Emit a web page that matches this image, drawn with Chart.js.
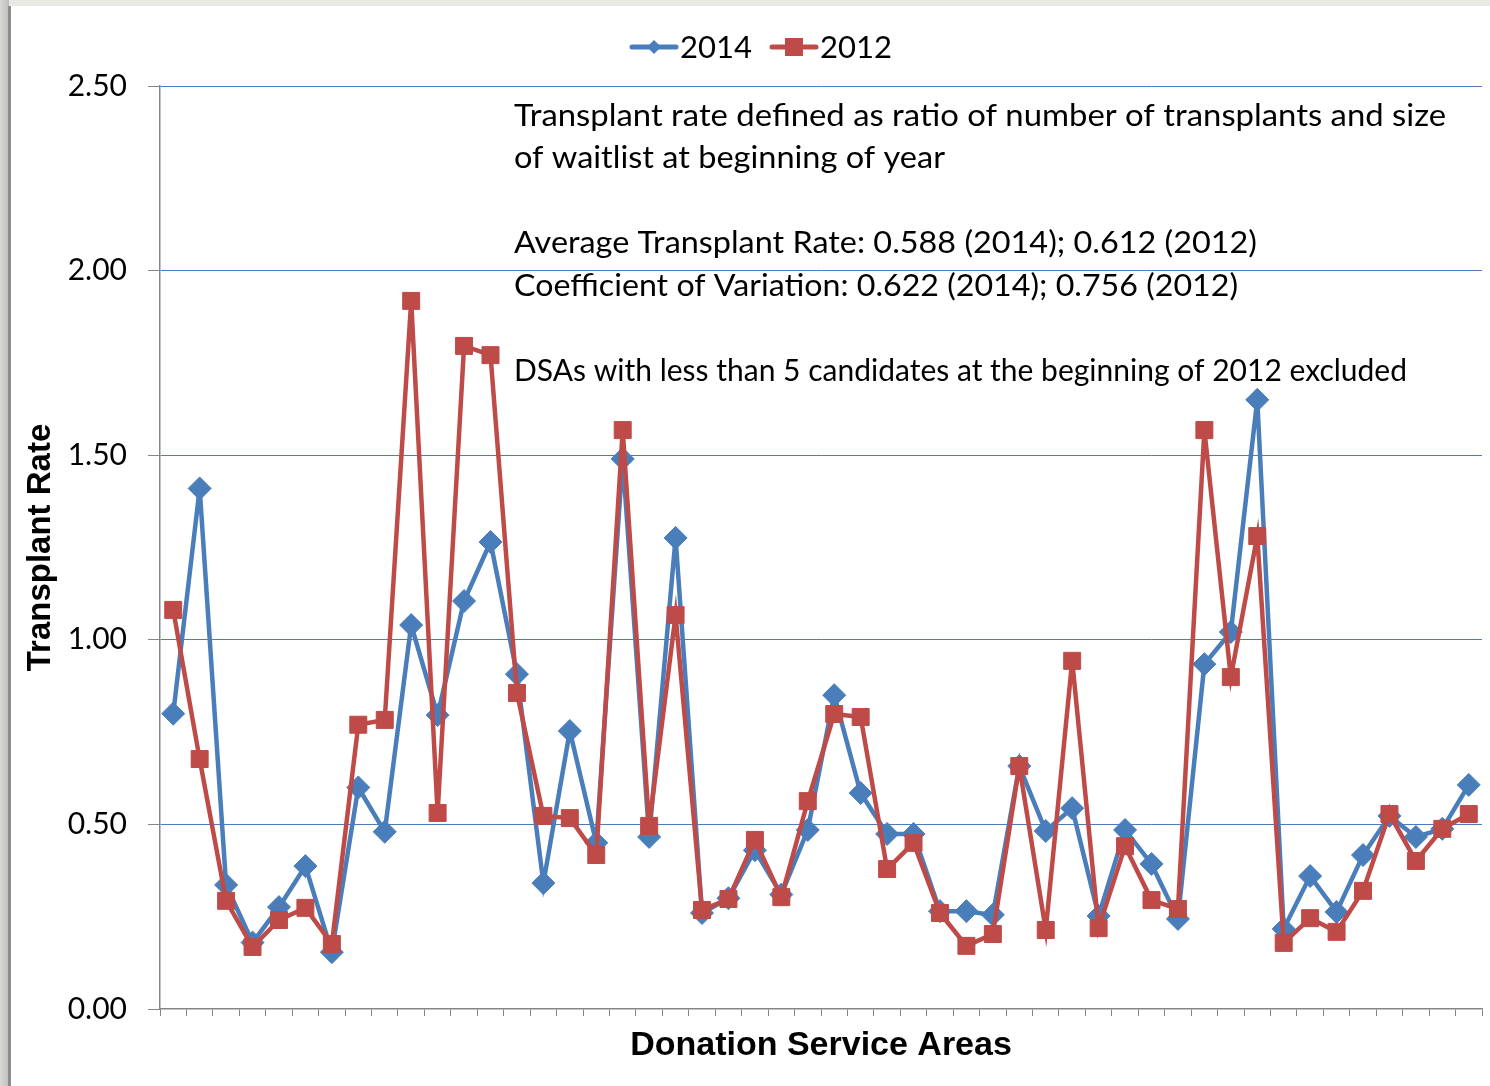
<!DOCTYPE html>
<html>
<head>
<meta charset="utf-8">
<title>Transplant Rate by Donation Service Area</title>
<script src="https://cdn.jsdelivr.net/npm/chart.js@4.4.1/dist/chart.umd.min.js"></script>
<style>
  html, body { margin: 0; padding: 0; background: #fff; }
  #wrap { width: 1490px; height: 1086px; position: relative; }
</style>
</head>
<body>
<div id="wrap"><canvas id="rateChart" width="1490" height="1086"></canvas></div>
<script>
// Donation Service Areas - the axis shows no names, one slot each
const dsaLabels = ['1','2','3','4','5','6','7','8','9','10',
  '11','12','13','14','15','16','17','18','19','20',
  '21','22','23','24','25','26','27','28','29','30',
  '31','32','33','34','35','36','37','38','39','40',
  '41','42','43','44','45','46','47','48','49','50'];

const seriesNames = ['2014', '2012'];

const rate2014 = [0.80, 1.41, 0.336, 0.18, 0.276, 0.387, 0.154, 0.60, 0.48, 1.04,
  0.796, 1.105, 1.265, 0.907, 0.341, 0.753, 0.45, 1.49, 0.466, 1.276,
  0.26, 0.30, 0.43, 0.31, 0.485, 0.85, 0.585, 0.474, 0.474, 0.265,
  0.265, 0.255, 0.658, 0.482, 0.544, 0.252, 0.485, 0.393, 0.244, 0.934,
  1.021, 1.65, 0.217, 0.36, 0.263, 0.417, 0.523, 0.466, 0.488, 0.607];

const rate2012 = [1.081, 0.677, 0.293, 0.168, 0.241, 0.274, 0.176, 0.77, 0.783, 1.918,
  0.531, 1.796, 1.771, 0.856, 0.523, 0.517, 0.417, 1.568, 0.496, 1.067,
  0.268, 0.298, 0.458, 0.303, 0.563, 0.799, 0.791, 0.379, 0.45, 0.26,
  0.171, 0.203, 0.658, 0.214, 0.943, 0.219, 0.441, 0.295, 0.271, 1.568,
  0.899, 1.281, 0.179, 0.246, 0.209, 0.32, 0.528, 0.401, 0.488, 0.528];

const yMin = 0, yMax = 2.5, yStep = 0.5;

const noteText = [
  'Transplant rate defined as ratio of number of transplants and size',
  'of waitlist at beginning of year',
  '',
  'Average Transplant Rate: 0.588 (2014); 0.612 (2012)',
  'Coefficient of Variation: 0.622 (2014); 0.756 (2012)',
  '',
  'DSAs with less than 5 candidates at the beginning of 2012 excluded'
];

const blue = '#4A7EBB';
const red = '#BE4B48';
const axisGray = '#868686';

// right end of each note line in the source picture
const noteEnds = [1446, 945, 0, 1257, 1238, 0, 1407];

// frame, legend and the note block
const extrasPlugin = {
  id: 'extras',
  beforeDraw(chart) {
    const ctx = chart.ctx;
    ctx.save();
    ctx.fillStyle = '#fff';
    ctx.fillRect(0, 0, chart.width, chart.height);
    ctx.fillStyle = '#E9E9E4';
    ctx.fillRect(0, 0, chart.width, 6);
    const g = ctx.createLinearGradient(0, 0, 9, 0);
    g.addColorStop(0, '#D8D8D4');
    g.addColorStop(1, '#BDBDBD');
    ctx.fillStyle = g;
    ctx.fillRect(0, 0, 9, chart.height);
    ctx.fillStyle = '#8C8C8C';
    ctx.fillRect(8, 6, 3, chart.height - 6);
    ctx.restore();
  },
  afterDraw(chart) {
    const ctx = chart.ctx;
    ctx.save();
    ctx.fillStyle = '#000';
    ctx.textBaseline = 'middle';
    ctx.font = '30px Lato';
    noteText.forEach((t, i) => {
      if (!t) return;
      // stretch each line to the same span as in the source
      const sx = (noteEnds[i] - 514) / ctx.measureText(t).width;
      ctx.save();
      ctx.translate(514, 116 + i * 42.5);
      ctx.scale(sx, 1);
      ctx.fillText(t, 0, 0);
      ctx.restore();
    });

    // legend: line + marker + label
    const items = [
      { x: 632, color: blue, marker: 'diamond' },
      { x: 772, color: red, marker: 'square' }
    ];
    items.forEach((it, i) => {
      const y = 47;
      ctx.strokeStyle = it.color;
      ctx.lineWidth = 5;
      ctx.lineCap = 'round';
      ctx.beginPath();
      ctx.moveTo(it.x, y);
      ctx.lineTo(it.x + 44, y);
      ctx.stroke();
      ctx.fillStyle = it.color;
      const cx = it.x + 22;
      if (it.marker === 'diamond') {
        ctx.beginPath();
        ctx.moveTo(cx - 7, y);
        ctx.lineTo(cx, y - 7);
        ctx.lineTo(cx + 7, y);
        ctx.lineTo(cx, y + 7);
        ctx.closePath();
        ctx.fill();
      } else {
        ctx.fillRect(cx - 9, y - 9, 18, 18);
      }
      ctx.fillStyle = '#000';
      ctx.font = '31px Lato';
      ctx.fillText(seriesNames[i], it.x + 48, y + 1);
    });
    ctx.restore();
  }
};

const ctx = document.getElementById('rateChart').getContext('2d');
new Chart(ctx, {
  type: 'line',
  data: {
    labels: dsaLabels,
    datasets: [
      {
        label: seriesNames[0],
        data: rate2014,
        borderColor: blue,
        backgroundColor: blue,
        borderWidth: 4.5,
        pointStyle: 'rectRot',
        pointRadius: 11.5,
        pointBorderWidth: 1,
        pointBackgroundColor: blue,
        pointBorderColor: blue,
        tension: 0,
        clip: false,
        order: 2
      },
      {
        label: seriesNames[1],
        data: rate2012,
        borderColor: red,
        backgroundColor: red,
        borderWidth: 4.5,
        pointStyle: 'rect',
        pointRadius: 12,
        pointBorderWidth: 1,
        pointBackgroundColor: red,
        pointBorderColor: red,
        tension: 0,
        clip: false,
        order: 1
      }
    ]
  },
  options: {
    responsive: false,
    animation: false,
    devicePixelRatio: 1,
    layout: { autoPadding: false, padding: { top: 86, right: 8, left: 0, bottom: 0 } },
    plugins: {
      legend: { display: false },
      tooltip: { enabled: false }
    },
    scales: {
      x: {
        type: 'category',
        offset: true,
        grid: {
          offset: true,
          drawOnChartArea: false,
          drawTicks: true,
          tickLength: 7,
          color: axisGray
        },
        border: { display: true, color: axisGray, width: 1.5 },
        ticks: { display: false },
        title: {
          display: true,
          text: 'Donation Service Areas',
          color: '#000',
          font: { family: 'Liberation Sans', size: 34, weight: 'bold' },
          padding: { top: 0, bottom: 20 }
        },
        afterFit(scale) { scale.height = 77; }
      },
      y: {
        min: yMin,
        max: yMax,
        grid: {
          color: (c) => c.tick && c.tick.value === 0 ? 'rgba(0,0,0,0)' : blue,
          lineWidth: 1,
          borderDash: [2, 2],
          drawTicks: true,
          tickLength: 12,
          tickColor: axisGray,
          tickBorderDash: []
        },
        border: { display: true, color: axisGray, width: 1.5 },
        ticks: {
          stepSize: yStep,
          padding: 21,
          color: '#000',
          font: { family: 'Lato', size: 30 },
          callback: (v) => Number(v).toFixed(2)
        },
        title: {
          display: true,
          text: 'Transplant Rate',
          color: '#000',
          font: { family: 'Liberation Sans', size: 33, weight: 'bold' },
          padding: { top: 21, bottom: 0 }
        },
        afterFit(scale) { scale.width = 160; }
      }
    }
  },
  plugins: [extrasPlugin]
});
</script>
</body>
</html>
